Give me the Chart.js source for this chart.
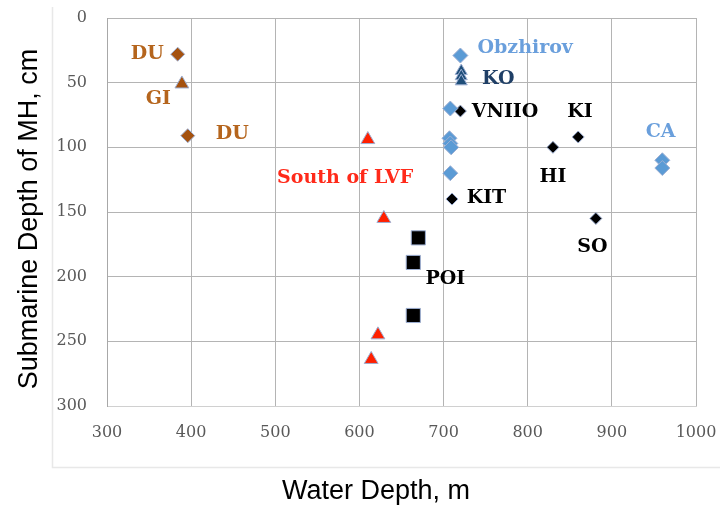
<!DOCTYPE html>
<html>
<head>
<meta charset="utf-8">
<script src="https://cdn.jsdelivr.net/npm/chart.js@4"></script>
<style>
  html,body{margin:0;padding:0;background:#fff;}
  #wrap{width:720px;height:508px;}
</style>
</head>
<body>
<div id="wrap"><canvas id="c" width="720" height="508"></canvas></div>
<script>
// values (water depth m, submarine depth cm)
let duPts=[{x:384,y:28},{x:396,y:91}];
let giPts=[{x:389,y:51}];
let lvfPts=[{x:610,y:94},{x:629,y:155},{x:622,y:245},{x:614,y:264}];
let poiPts=[{x:670,y:170},{x:664,y:189},{x:664,y:230}];
let obzPts=[{x:720,y:29},{x:708,y:70},{x:707,y:93},{x:708,y:97},{x:709,y:100},{x:708,y:120},{x:960,y:110},{x:960,y:116}];
let koPts=[{x:721,y:41},{x:721,y:45},{x:721,y:49}];
let blackPts=[{x:720,y:72},{x:710,y:140},{x:830,y:100},{x:860,y:92},{x:881,y:155}];

let xTicks=[300,400,500,600,700,800,900,1000];
let yTicks=[0,50,100,150,200,250,300];
let xTitle="Water Depth, m";
let yTitle="Submarine Depth of MH, cm";

// text labels, placed in data units
let labels=[
 {t:"DU",x:348,y:28,c:"#b5651d"},
 {t:"GI",x:361,y:63,c:"#b5651d"},
 {t:"DU",x:449,y:90,c:"#b5651d"},
 {t:"South of LVF",x:583,y:124,c:"#ff2a1a"},
 {t:"Obzhirov",x:797,y:23,c:"#6a9fdc"},
 {t:"KO",x:765,y:47,c:"#1f3f66"},
 {t:"VNIIO",x:773,y:73,c:"#000"},
 {t:"KI",x:862,y:73,c:"#000"},
 {t:"CA",x:958,y:88,c:"#6a9fdc"},
 {t:"HI",x:830,y:123,c:"#000"},
 {t:"KIT",x:751,y:139,c:"#000"},
 {t:"SO",x:877,y:177,c:"#000"},
 {t:"POI",x:702,y:202,c:"#000"}
];

let frame={
  id:"frame",
  beforeDraw(ch){
    let g=ch.ctx;
    g.save();
    g.strokeStyle="#e8e8e8";g.lineWidth=1.5;
    g.beginPath();g.moveTo(52.5,7);g.lineTo(52.5,467.5);g.lineTo(720,467.5);g.stroke();
    // axis titles
    g.fillStyle="#000";g.font="27px 'Liberation Sans'";
    g.textAlign="center";g.textBaseline="alphabetic";
    g.fillText(xTitle,376,499);
    g.translate(37,219);g.rotate(-Math.PI/2);
    g.fillText(yTitle,0,0);
    g.restore();
  }
};
let textLabels={
  id:"textLabels",
  afterDatasetsDraw(ch){
    let g=ch.ctx, sx=ch.scales.x, sy=ch.scales.y;
    g.save();
    g.font="bold 19px 'DejaVu Serif'";
    g.textAlign="center";g.textBaseline="middle";
    labels.forEach(l=>{
      g.fillStyle=l.c;
      g.fillText(l.t,sx.getPixelForValue(l.x),sy.getPixelForValue(l.y));
    });
    g.restore();
  }
};

let edge="#9dafd3";
function ds(data,color,style,r){
  return {data:data,pointStyle:style,pointRadius:r,pointHoverRadius:r,backgroundColor:color,borderColor:edge,borderWidth:1};
}

new Chart(document.getElementById("c"),{
  type:"scatter",
  data:{datasets:[
    ds(duPts,"#a5520f","rectRot",7),
    ds(giPts,"#a5520f","triangle",8),
    ds(lvfPts,"#ff2000","triangle",8),
    ds(poiPts,"#000","rect",10),
    ds(obzPts,"#5b9bd5","rectRot",7.5),
    ds(koPts,"#1f4e79","triangle",7),
    ds(blackPts,"#000","rectRot",6)
  ]},
  options:{
    responsive:false,animation:false,
    layout:{padding:{top:18,right:24,left:0,bottom:0}},
    plugins:{legend:{display:false},tooltip:{enabled:false}},
    scales:{
      x:{
        type:"linear",min:300,max:1000,
        afterBuildTicks(s){s.ticks=xTicks.map(v=>({value:v}));},
        afterFit(s){s.height=102;s.paddingLeft=0;s.paddingRight=0;},
        grid:{color:"#b4b4b4",drawTicks:false},
        border:{color:"#d0d0d0"},
        ticks:{padding:17,color:"#595959",font:{family:"DejaVu Serif",size:16},callback:v=>String(v)}
      },
      y:{
        type:"linear",min:0,max:300,reverse:true,
        afterBuildTicks(s){s.ticks=yTicks.map(v=>({value:v}));},
        afterFit(s){s.width=107;s.paddingTop=0;s.paddingBottom=0;},
        grid:{color:(c)=>c.tick&&c.tick.value===300?"#d8d8d8":"#b4b4b4",drawTicks:false},
        border:{color:"#a8a8a8"},
        ticks:{padding:20,color:"#595959",font:{family:"DejaVu Serif",size:16},callback:v=>String(v)}
      }
    }
  },
  plugins:[frame,textLabels]
});
</script>
</body>
</html>
